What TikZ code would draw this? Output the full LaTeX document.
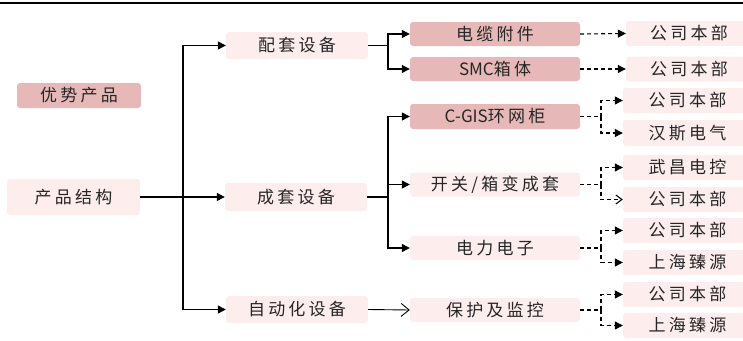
\documentclass[tikz,border=0pt]{standalone}
\usepackage{fontspec}
\newfontfamily\cjk{Noto Sans CJK SC}[LetterSpace=19]
\newfontfamily\lat{Noto Sans CJK SC}
\usetikzlibrary{arrows.meta}
\definecolor{dkpink}{HTML}{E6B9B8}
\definecolor{ltpink}{HTML}{FDEDED}
\begin{document}
\begin{tikzpicture}[x=1pt,y=-1pt,
  box/.style={rounded corners=3pt, inner sep=0pt, anchor=center,
    font=\cjk\fontsize{17pt}{19pt}\selectfont, text=black!85},
  dk/.style={box, fill=dkpink},
  lt/.style={box, fill=ltpink},
  ln/.style={line width=1.2pt, black},
  arr/.style={-{Triangle[length=8pt,width=8pt]}},
  barb/.style={-{Straight Barb[length=8pt,width=13pt]}},
  sbarb/.style={-{Straight Barb[length=6pt,width=9pt]}},
  dsh/.style={dash pattern=on 4pt off 3pt, line width=1.1pt, black}]
\clip (0,0) rectangle (743,340);
\draw[line width=1.8pt] (0,3.3) -- (743,3.3);
% left column
\node[dk, minimum width=124pt, minimum height=25pt] (best) at (79,95.5) {优势产品};
\node[lt, minimum width=133pt, minimum height=36pt] (root) at (73.5,197) {产品结构};
% second column
\node[lt, minimum width=142pt, minimum height=27pt] (pt) at (297,45.5) {配套设备};
\node[lt, minimum width=142pt, minimum height=28pt] (ct) at (296,197) {成套设备};
\node[lt, minimum width=142pt, minimum height=27pt] (zd) at (297,309.5) {自动化设备};
% third column
\node[dk, minimum width=170pt, minimum height=24pt] (dl) at (495,34) {电缆附件};
\node[dk, minimum width=170pt, minimum height=24pt] (smc) at (495,69) {{\lat SMC}箱体};
\node[dk, minimum width=170pt, minimum height=25pt] (cgis) at (495,116.5) {{\lat C-GIS}环网柜};
\node[lt, minimum width=170pt, minimum height=24pt] (kg) at (495,184.5) {开关/箱变成套};
\node[lt, minimum width=170pt, minimum height=24pt] (dz) at (495,248) {电力电子};
\node[lt, minimum width=170pt, minimum height=24pt] (bh) at (495,310) {保护及监控};
% right column
\node[lt, minimum width=126pt, minimum height=25pt] (r1) at (689,33.5) {公司本部};
\node[lt, minimum width=126pt, minimum height=25pt] (r2) at (689,69) {公司本部};
\node[lt, minimum width=129pt, minimum height=25pt] (r3) at (687.5,100.5) {公司本部};
\node[lt, minimum width=129pt, minimum height=26pt] (r4) at (687.5,133) {汉斯电气};
\node[lt, minimum width=129pt, minimum height=25pt] (r5) at (687.5,167.5) {武昌电控};
\node[lt, minimum width=129pt, minimum height=25pt] (r6) at (687.5,199.5) {公司本部};
\node[lt, minimum width=129pt, minimum height=25pt] (r7) at (687.5,230.5) {公司本部};
\node[lt, minimum width=129pt, minimum height=25pt] (r8) at (687.5,262.5) {上海臻源};
\node[lt, minimum width=129pt, minimum height=25pt] (r9) at (687.5,294.5) {公司本部};
\node[lt, minimum width=129pt, minimum height=25pt] (r10) at (687.5,325.5) {上海臻源};
% bus coordinates
\coordinate (t1) at (183,0);
\coordinate (t2) at (388,0);
\coordinate (t3) at (601,0);
% root to second column
\draw[ln,arr] (root.east) -- (ct.west);
\draw[ln,arr] (t1 |- zd.west) -- (t1 |- pt.west) -- (pt.west);
\draw[ln,arr] (t1 |- pt.west) -- (t1 |- zd.west) -- (zd.west);
% second to third
\draw[ln] (pt.east) -- (t2 |- pt.east);
\draw[ln,arr] (t2 |- pt.east) |- (dl.west);
\draw[ln,arr] (t2 |- pt.east) |- (smc.west);
\draw[ln] (ct.east) -- (t2 |- ct.east);
\draw[ln,arr] (t2 |- ct.east) |- (cgis.west);
\draw[ln,arr] (t2 |- ct.east) |- (kg.west);
\draw[ln,arr] (t2 |- ct.east) |- (dz.west);
\draw[line width=0.9pt,barb] (zd.east) -- (bh.west);
% third to right
\draw[dsh,arr] (dl.east) -- (r1.west);
\draw[dsh,arr] (smc.east) -- (r2.west);
\draw[dsh] (cgis.east) -- (t3 |- cgis.east);
\draw[dsh,arr] (t3 |- cgis.east) |- (r3.west);
\draw[dsh,arr] (t3 |- cgis.east) |- (r4.west);
\draw[dsh] (kg.east) -- (t3 |- kg.east);
\draw[dsh,arr] (t3 |- kg.east) |- (r5.west);
\draw[dsh,sbarb] (t3 |- kg.east) |- (r6.west);
\draw[dsh] (dz.east) -- (t3 |- dz.east);
\draw[dsh,arr] (t3 |- dz.east) |- (r7.west);
\draw[dsh,arr] (t3 |- dz.east) |- (r8.west);
\draw[dsh] (bh.east) -- (t3 |- bh.east);
\draw[dsh,arr] (t3 |- bh.east) |- (r9.west);
\draw[dsh,arr] (t3 |- bh.east) |- (r10.west);
\end{tikzpicture}
\end{document}
